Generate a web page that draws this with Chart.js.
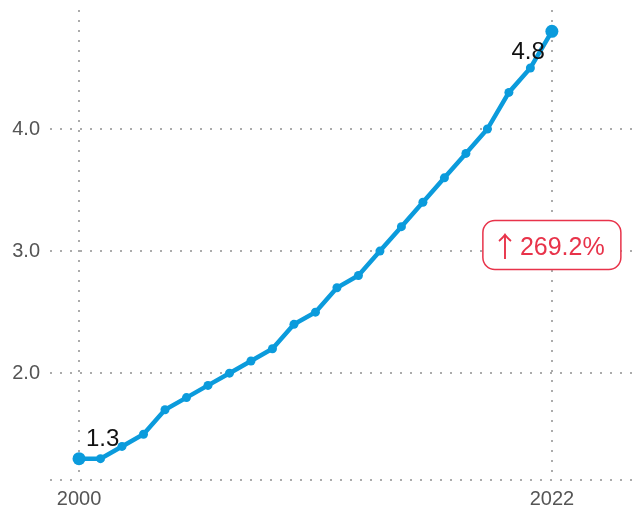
<!DOCTYPE html>
<html>
<head>
<meta charset="utf-8">
<script src="https://cdn.jsdelivr.net/npm/chart.js@4.4.1/dist/chart.umd.min.js"></script>
<style>
  html, body { margin: 0; padding: 0; background: #fff; }
  #wrap { width: 640px; height: 510px; }
</style>
</head>
<body>
<div id="wrap"><canvas id="chart" width="640" height="510"></canvas></div>
<script>
// Datos
const years = [2000, 2001, 2002, 2003, 2004, 2005, 2006, 2007, 2008, 2009, 2010, 2011,
               2012, 2013, 2014, 2015, 2016, 2017, 2018, 2019, 2020, 2021, 2022];
const values = [1.3, 1.3, 1.4, 1.5, 1.7, 1.8, 1.9, 2.0, 2.1, 2.2, 2.4, 2.5,
                2.7, 2.8, 3.0, 3.2, 3.4, 3.6, 3.8, 4.0, 4.3, 4.5, 4.8];
const xTicks = [2000, 2022];
const yTicks = [2.0, 3.0, 4.0];
const changeLabel = '269.2%';

const LINE_COLOR = '#0b9bdc';
const GRID_COLOR = '#ababab';
const RED = '#e8334a';
const FONT = "'Liberation Sans', Arial, sans-serif";

const points = years.map((y, i) => ({ x: y, y: values[i] }));
const last = values.length - 1;

// Etiquetas y badge de cambio
const labelsPlugin = {
    id: 'labels',
    beforeDatasetsDraw(chart) {
        const { ctx, chartArea } = chart;
        // linea inferior punteada
        ctx.save();
        ctx.strokeStyle = GRID_COLOR;
        ctx.lineWidth = 2;
        ctx.setLineDash([2, 8]);
        ctx.beginPath();
        ctx.moveTo(chartArea.left, chartArea.bottom);
        ctx.lineTo(chartArea.right, chartArea.bottom);
        ctx.stroke();
        ctx.restore();
    },
    afterDatasetsDraw(chart) {
        const { ctx, scales } = chart;
        const x = scales.x, y = scales.y;
        ctx.save();
        ctx.font = '24px ' + FONT;
        ctx.fillStyle = '#111';
        ctx.textBaseline = 'middle';
        // primer valor
        ctx.textAlign = 'left';
        ctx.fillText(values[0].toFixed(1), x.getPixelForValue(years[0]) + 7, y.getPixelForValue(values[0]) - 19);
        // ultimo valor
        ctx.textAlign = 'right';
        ctx.fillText(values[last].toFixed(1), x.getPixelForValue(years[last]) - 7, y.getPixelForValue(values[last]) + 21);

        // badge
        const cx = x.getPixelForValue(years[last]);
        const cy = y.getPixelForValue((values[0] + values[last]) / 2);
        const w = 138, h = 49, r = 12;
        ctx.beginPath();
        ctx.roundRect(cx - w / 2, cy - h / 2, w, h, r);
        ctx.fillStyle = '#fff';
        ctx.fill();
        ctx.lineWidth = 1.5;
        ctx.strokeStyle = RED;
        ctx.stroke();
        ctx.fillStyle = RED;
        ctx.textAlign = 'left';
        ctx.textBaseline = 'alphabetic';
        ctx.font = "28px 'Noto Sans CJK JP', sans-serif";
        ctx.fillText('\u2191', cx - 61, cy + 12);
        ctx.font = '25px ' + FONT;
        ctx.fillText(changeLabel, cx - 32, cy + 10);
        ctx.restore();
    }
};

const chart = new Chart(document.getElementById('chart'), {
    type: 'line',
    data: {
        datasets: [{
            data: points,
            borderColor: LINE_COLOR,
            backgroundColor: LINE_COLOR,
            borderWidth: 4.5,
            tension: 0,
            pointRadius: points.map((p, i) => (i === 0 || i === last) ? 6.5 : 4.5),
            pointBackgroundColor: LINE_COLOR,
            pointBorderWidth: 0
        }]
    },
    options: {
        responsive: false,
        animation: false,
        layout: { autoPadding: false, padding: { top: 10, right: 0, left: 0, bottom: 0 } },
        plugins: {
            legend: { display: false },
            tooltip: { enabled: false }
        },
        scales: {
            x: {
                type: 'linear',
                min: 1998.65,
                max: 2026.1,
                afterBuildTicks: s => { s.ticks = xTicks.map(v => ({ value: v })); },
                afterFit: s => { s.height = 30; s.paddingLeft = 0; s.paddingRight = 0; },
                grid: { color: GRID_COLOR, lineWidth: 2, drawTicks: false },
                border: { display: false, dash: [2, 8] },
                ticks: {
                    padding: 7,
                    color: '#555',
                    font: { family: FONT, size: 20 },
                    callback: v => String(v)
                }
            },
            y: {
                min: 1.125,
                max: 4.975,
                afterBuildTicks: s => { s.ticks = yTicks.map(v => ({ value: v })); },
                afterFit: s => { s.width = 50; s.paddingTop = 0; s.paddingBottom = 0; },
                grid: { color: GRID_COLOR, lineWidth: 2, drawTicks: false },
                border: { display: false, dash: [2, 8] },
                ticks: {
                    padding: 10,
                    color: '#555',
                    font: { family: FONT, size: 20 },
                    callback: v => v.toFixed(1)
                }
            }
        }
    },
    plugins: [labelsPlugin]
});
</script>
</body>
</html>
